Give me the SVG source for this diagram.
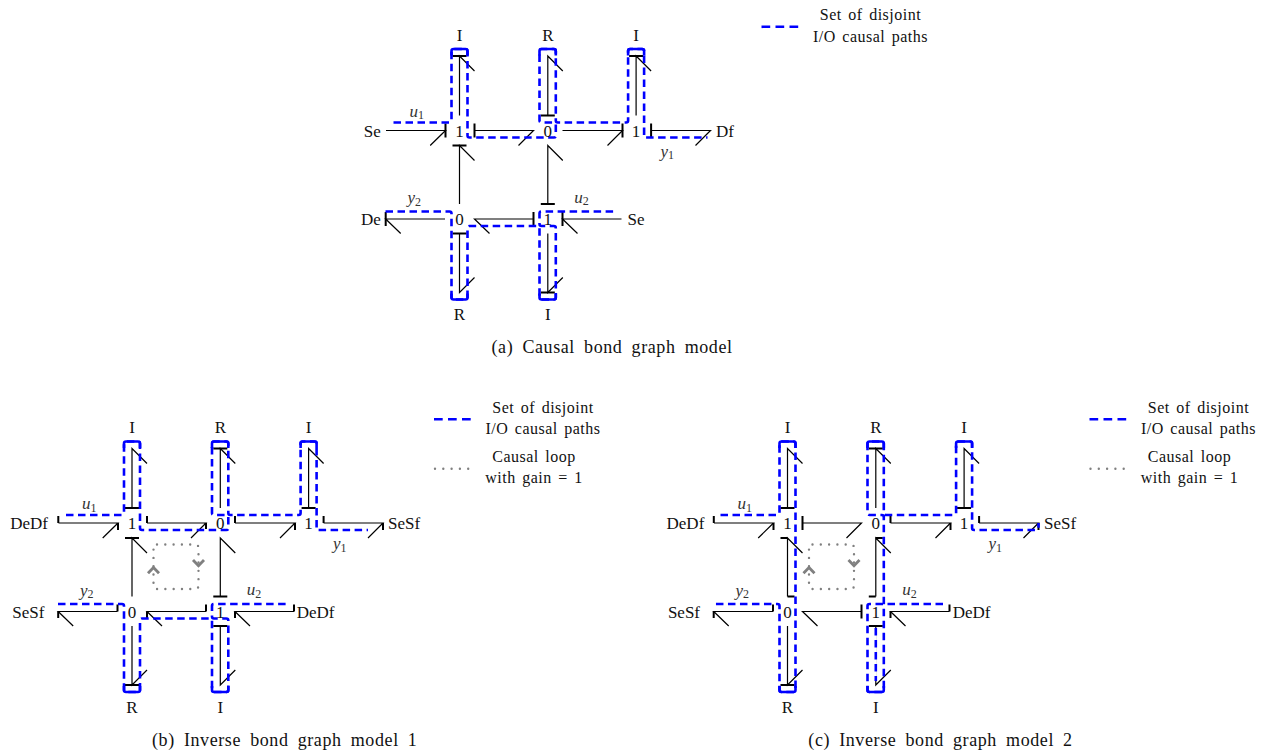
<svg xmlns="http://www.w3.org/2000/svg" width="1268" height="753" viewBox="0 0 1268 753">
<style>
text{font-family:"Liberation Serif","Times New Roman",serif;font-size:17px;fill:#111}
.m{text-anchor:middle}.e{text-anchor:end}
.i{font-style:italic;fill:#333}
.s{font-size:12px;font-style:normal}
.cap{font-size:18px;letter-spacing:.6px;word-spacing:4px}
.lg{font-size:16px;letter-spacing:.5px;word-spacing:2px}
path{fill:none}
.b{stroke:#000;stroke-width:1.2}
.c{stroke:#000;stroke-width:2}
.p{stroke:#00f;stroke-width:2.6;stroke-dasharray:7.5 4.5}
.sol{stroke:#00f;stroke-width:2.6}
.w{stroke:#fff;stroke-width:2}
.lp{stroke:#00f;stroke-width:2.6;stroke-dasharray:8.7 5.3}
.d{stroke:#808080;stroke-width:2.4;stroke-linecap:round;stroke-dasharray:0 8.3}
.h{stroke:#808080;stroke-width:2.8}
</style>
<defs>
<path id="bonds" class="b" d="M-73.5 0H-14L-29.3 15M15 0H74L59 15M103 0H163L148 15M191.6 0H251L236 15M0 -15V-74.5L15 -59.5M88.3 -15V-74.5L103.3 -59.5M176.6 -15V-74.5L191.6 -59.5M0 73.5V15L15 30M88.3 73.5V15L103.3 30M-14.5 88.5H-73.8L-58.8 103M74 88.5H15L30 103M162 88.5H103L118 103M0 103V162L15 147M88.3 103V162L103.3 147"/>
<path id="caps" class="sol" d="M-8 -75V-79.5Q-8 -81.5 -6 -81.5H6Q8 -81.5 8 -79.5V-75M80 -75V-79.5Q80 -81.5 82 -81.5H94.3Q96.3 -81.5 96.3 -79.5V-75M168.6 -75V-79.5Q168.6 -81.5 170.6 -81.5H182.6Q184.6 -81.5 184.6 -79.5V-75M-8 163V167Q-8 169 -6 169H6Q8 169 8 167V163M80 163V167Q80 169 82 169H94.3Q96.3 169 96.3 167V163"/>
<path id="top" class="p" d="M-66 -8H-10Q-8 -8 -8 -10V-79.5Q-8 -81.5 -6 -81.5H6Q8 -81.5 8 -79.5V5Q8 7 10 7H94.3Q96.3 7 96.3 5V-6Q96.3 -8 94.3 -8H82Q80 -8 80 -10V-79.5Q80 -81.5 82 -81.5H94.3Q96.3 -81.5 96.3 -79.5V-10Q96.3 -8 98.3 -8H166.6Q168.6 -8 168.6 -10V-79.5Q168.6 -81.5 170.6 -81.5H182.6Q184.6 -81.5 184.6 -79.5V5Q184.6 7 186.6 7"/>
<path id="low" class="p" d="M-74 81H-10Q-8 81 -8 83V167Q-8 169 -6 169H6Q8 169 8 167V97.5Q8 95.5 10 95.5H78Q80 95.5 80 97.5V167Q80 169 82 169H94.3Q96.3 169 96.3 167V97.5Q96.3 95.5 94.3 95.5H82Q80 95.5 80 93.5V83Q80 81 82 81H155.5"/>
<g id="loop">
<path class="d" d="M25 21.5H63Q66.5 21.5 66.5 25V62.5Q66.5 66 63 66H25Q21.5 66 21.5 62.5V25Q21.5 21.5 25 21.5Z"/>
<path class="h" d="M16 50.3L21.5 44.5L27 50.3M61 37L66.5 42.8L72 37"/>
</g>
<g id="legend1">
<path class="lp" d="M302 -103.7H339"/>
<text class="m lg" x="411" y="-110.3">Set of disjoint</text>
<text class="m lg" x="411" y="-89">I/O causal paths</text>
</g>
<g id="legend2">
<path class="d" d="M303 -54.3H339"/>
<text class="m lg" x="402" y="-61.3">Causal loop</text>
<text class="m lg" x="402" y="-40.3">with gain = 1</text>
</g>
</defs>

<g id="panel-a" transform="translate(459.5 130.5)">
<g id="connectors-a">
<use href="#bonds"/>
<path class="c" d="M-14 -7V7M15 -7V7M163 -7V7M191.6 -7V7M-7 -74.5H7M81.3 -15H95.3M169.6 -74.5H183.6M-7 15H7M81.3 73.5H95.3M-73.8 81.5V95.5M74 81.5V95.5M103 81.5V95.5M-7 103H7M81.3 162H95.3"/>
<use href="#top"/><path class="p" d="M186.6 7H248"/>
<use href="#low"/><use href="#caps"/>
</g>
<g id="a-legend"><use href="#legend1"/></g>
<g id="a-I1"><text class="m" x="0" y="-89.8">I</text></g>
<g id="a-R1"><text class="m" x="88.3" y="-89.8">R</text></g>
<g id="a-I2"><text class="m" x="176.6" y="-89.8">I</text></g>
<g id="a-j1"><text class="m" x="0" y="6">1</text></g>
<g id="a-j2"><text class="m" x="88.3" y="6">0</text></g>
<g id="a-j3"><text class="m" x="176.6" y="6">1</text></g>
<g id="a-j4"><text class="m" x="0" y="94.5">0</text></g>
<g id="a-j5"><text class="m" x="88.3" y="94.5">1</text></g>
<g id="a-Se1"><text class="e" x="-78.8" y="6">Se</text></g>
<g id="a-Df"><text x="256.5" y="6">Df</text></g>
<g id="a-De"><text class="e" x="-78.8" y="94.5">De</text></g>
<g id="a-Se2"><text x="168" y="94.5">Se</text></g>
<g id="a-R2"><text class="m" x="0" y="189.5">R</text></g>
<g id="a-I3"><text class="m" x="88.3" y="189.5">I</text></g>
<g id="a-u1"><text class="i" x="-50" y="-13.8">u<tspan class="s" dy="2.5">1</tspan></text></g>
<g id="a-y1"><text class="i" x="201" y="26">y<tspan class="s" dy="2.5">1</tspan></text></g>
<g id="a-y2"><text class="i" x="-52" y="72.8">y<tspan class="s" dy="2.5">2</tspan></text></g>
<g id="a-u2"><text class="i" x="114.7" y="72">u<tspan class="s" dy="2.5">2</tspan></text></g>
<g id="a-caption"><text class="cap" x="32" y="222.5">(a) Causal bond graph model</text></g>
</g>

<g id="panel-b" transform="translate(132 523)">
<g id="connectors-b">
<use href="#bonds"/>
<path class="c" d="M-73.7 -7V0M-14 0V7M15 -7V0M74 0V6M103 -7V0M163 0V7M191.6 -7V0M251 0V7M-7 -15H7M81.3 -74.5H95.3M169.6 -15H183.6M-7 15H7M81.3 73.5H95.3M-73.8 88.5V95M-14.5 81.5V88.5M15 88.5V95M74 81.5V88.5M103 88.5V95M162 81.5V88.5M-7 162H7M81.3 103H95.3"/>
<use href="#top"/><path class="p" d="M186.6 7H236"/>
<use href="#low"/><use href="#caps"/>
<use href="#loop"/>
</g>
<g id="b-legend"><use href="#legend1"/><use href="#legend2"/></g>
<g id="b-I1"><text class="m" x="0" y="-89.8">I</text></g>
<g id="b-R1"><text class="m" x="88.3" y="-89.8">R</text></g>
<g id="b-I2"><text class="m" x="176.6" y="-89.8">I</text></g>
<g id="b-j1"><text class="m" x="0" y="6">1</text></g>
<g id="b-j2"><text class="m" x="88.3" y="6">0</text></g>
<g id="b-j3"><text class="m" x="176.6" y="6">1</text></g>
<g id="b-j4"><text class="m" x="0" y="94.5">0</text></g>
<g id="b-j5"><text class="m" x="88.3" y="94.5">1</text></g>
<g id="b-DeDf1"><text class="e" x="-84" y="6">DeDf</text></g>
<g id="b-SeSf1"><text x="256" y="6">SeSf</text></g>
<g id="b-SeSf2"><text class="e" x="-87.7" y="94.5">SeSf</text></g>
<g id="b-DeDf2"><text x="164.7" y="94.5">DeDf</text></g>
<g id="b-R2"><text class="m" x="0" y="189.5">R</text></g>
<g id="b-I3"><text class="m" x="88.3" y="189.5">I</text></g>
<g id="b-u1"><text class="i" x="-50" y="-13.8">u<tspan class="s" dy="2.5">1</tspan></text></g>
<g id="b-y1"><text class="i" x="201" y="26">y<tspan class="s" dy="2.5">1</tspan></text></g>
<g id="b-y2"><text class="i" x="-52" y="72.8">y<tspan class="s" dy="2.5">2</tspan></text></g>
<g id="b-u2"><text class="i" x="114.7" y="72">u<tspan class="s" dy="2.5">2</tspan></text></g>
<g id="b-caption"><text class="cap" x="20" y="222.7">(b) Inverse bond graph model 1</text></g>
</g>

<g id="panel-c" transform="translate(787.5 523)">
<g id="connectors-c">
<use href="#bonds"/>
<path class="c" d="M-73.7 -7V0M-14 0V7M15 -7V7M103 -7V0M163 0V7M191.6 -7V0M251 0V7M-7 -15H7M81.3 -74.5H95.3M169.6 -15H183.6M-7 15H0M0 73.5H7M88.3 15H95.3M81.3 73.5H88.3M-73.8 88.5V95M-14.5 81.5V88.5M74 81.5V95.5M103 88.5V95M162 81.5V88.5M-7 162H7M81.3 103H95.3"/>
<path class="p" d="M-67 -8H-10Q-8 -8 -8 -10V-79.5Q-8 -81.5 -6 -81.5H6Q8 -81.5 8 -79.5V167Q8 169 6 169H-6Q-8 169 -8 167V83Q-8 81 -10 81H-74"/>
<path class="p" d="M155.5 81H82Q80 81 80 83V167Q80 169 82 169H94.3Q96.3 169 96.3 167V-6Q96.3 -8 94.3 -8H82Q80 -8 80 -10V-79.5Q80 -81.5 82 -81.5H94.3Q96.3 -81.5 96.3 -79.5V-10Q96.3 -8 98.3 -8H166.6Q168.6 -8 168.6 -10V-79.5Q168.6 -81.5 170.6 -81.5H182.6Q184.6 -81.5 184.6 -79.5V5Q184.6 7 186.6 7H249Q251 7 251 5V0"/>
<path class="w" d="M88.3 105V155"/>
<path class="p" d="M88.3 105V158"/>
<use href="#caps"/>
<use href="#loop"/>
</g>
<g id="c-legend"><use href="#legend1"/><use href="#legend2"/></g>
<g id="c-I1"><text class="m" x="0" y="-89.8">I</text></g>
<g id="c-R1"><text class="m" x="88.3" y="-89.8">R</text></g>
<g id="c-I2"><text class="m" x="176.6" y="-89.8">I</text></g>
<g id="c-j1"><text class="m" x="0" y="6">1</text></g>
<g id="c-j2"><text class="m" x="88.3" y="6">0</text></g>
<g id="c-j3"><text class="m" x="176.6" y="6">1</text></g>
<g id="c-j4"><text class="m" x="0" y="94.5">0</text></g>
<g id="c-j5"><text class="m" x="88.3" y="94.5">1</text></g>
<g id="c-DeDf1"><text class="e" x="-83.2" y="6">DeDf</text></g>
<g id="c-SeSf1"><text x="256.5" y="6">SeSf</text></g>
<g id="c-SeSf2"><text class="e" x="-87.5" y="94.5">SeSf</text></g>
<g id="c-DeDf2"><text x="165.2" y="94.5">DeDf</text></g>
<g id="c-R2"><text class="m" x="0" y="189.5">R</text></g>
<g id="c-I3"><text class="m" x="88.3" y="189.5">I</text></g>
<g id="c-u1"><text class="i" x="-50" y="-13.8">u<tspan class="s" dy="2.5">1</tspan></text></g>
<g id="c-y1"><text class="i" x="201" y="26">y<tspan class="s" dy="2.5">1</tspan></text></g>
<g id="c-y2"><text class="i" x="-52" y="72.8">y<tspan class="s" dy="2.5">2</tspan></text></g>
<g id="c-u2"><text class="i" x="114.7" y="72">u<tspan class="s" dy="2.5">2</tspan></text></g>
<g id="c-caption"><text class="cap" x="20.8" y="222.7">(c) Inverse bond graph model 2</text></g>
</g>
</svg>
